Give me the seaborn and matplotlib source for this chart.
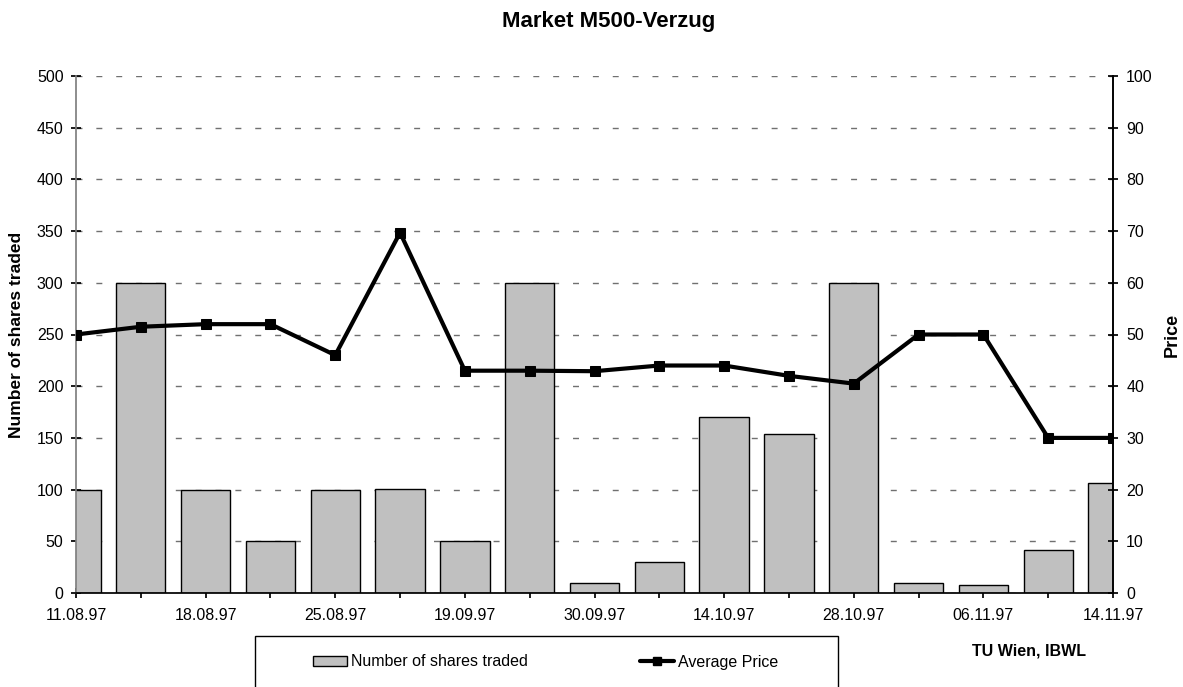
import matplotlib
matplotlib.use("Agg")
import matplotlib.pyplot as plt
import seaborn as sns
import numpy as np
import pandas as pd
from matplotlib.lines import Line2D
from matplotlib.patches import Patch, Rectangle

# Data
date_labels = ["11.08.97", "", "18.08.97", "", "25.08.97", "", "19.09.97", "",
               "30.09.97", "", "14.10.97", "", "28.10.97", "", "06.11.97", "", "14.11.97"]
shares_traded = [100, 300, 100, 50, 100, 101, 50, 300, 10, 30, 170, 154, 300, 10, 8, 42, 106]
average_price = [50, 51.5, 52, 52, 46, 69.7, 43, 43, 42.9, 44, 44, 42, 40.5, 50, 50, 30, 30]

df = pd.DataFrame({"pos": np.arange(len(shares_traded)),
                   "shares": shares_traded,
                   "price": average_price})

sns.set_theme(style="white")
plt.rcParams['font.family'] = ['Liberation Sans', 'DejaVu Sans']
plt.rcParams['text.color'] = 'black'
plt.rcParams['axes.labelcolor'] = 'black'
plt.rcParams['xtick.color'] = 'black'
plt.rcParams['ytick.color'] = 'black'

W, H = 1183, 687
fig = plt.figure(figsize=(W/100, H/100), dpi=100)
ax = fig.add_axes([76/W, 1-593/H, (1113-76)/W, (593-76)/H])

sns.barplot(data=df, x="pos", y="shares", native_scale=True, width=0.76,
            color="#c0c0c0", saturation=1, edgecolor="black", linewidth=1,
            ax=ax, zorder=2)
ax.set_xlim(0, len(shares_traded) - 1)
ax.set_ylim(0, 500)
ax.set_yticks(np.arange(0, 501, 50))
ax.set_xticks(np.arange(len(shares_traded)))
ax.set_xticklabels(date_labels)
ax.yaxis.grid(True, linestyle=(0, (4.3, 10)), color="#707070", linewidth=1)
ax.set_axisbelow(True)
ax.set_xlabel("")
ax.set_ylabel("Number of shares traded", fontsize=12.5, fontweight="bold")
ax.yaxis.set_label_coords((24-76)/1037, 0.5)

ax2 = ax.twinx()
sns.lineplot(data=df, x="pos", y="price", ax=ax2, color="black", linewidth=3.0,
             marker="s", markersize=6.5, markeredgecolor="black", zorder=3)
ax2.set_ylim(0, 100)
ax2.set_yticks(np.arange(0, 101, 10))
ax2.set_ylabel("Price", fontsize=13, fontweight="bold")
ax2.yaxis.set_label_coords((1164-76)/1037, 0.5)
ax2.set_xlabel("")
ax2.set_xlim(0, len(shares_traded) - 1)

for a in (ax, ax2):
    a.spines["top"].set_visible(False)
    a.tick_params(labelsize=11.5, labelcolor="black", length=7, direction="inout")
ax.spines["left"].set_color("#808080")
ax.spines["bottom"].set_color("black")
ax2.spines["right"].set_color("black")
ax2.spines["left"].set_visible(False)
ax2.spines["bottom"].set_visible(False)
ax.tick_params(axis="y", left=True, color="black", pad=5.5)
ax.tick_params(axis="x", bottom=True, color="black", pad=7)
ax2.tick_params(axis="y", right=True, color="black", pad=6)

fig.text(609/W, 1-22/H, "Market M500-Verzug", fontsize=16, fontweight="bold",
         ha="center", va="center", color="black")

# legend frame
fig.patches.append(Rectangle((255/W, -0.05), (838-255)/W, 0.05 + (687-636)/H,
                             transform=fig.transFigure, facecolor="white",
                             edgecolor="black", linewidth=1, zorder=5))
handles = [Patch(facecolor="#c0c0c0", edgecolor="black", linewidth=1),
           Line2D([0], [0], color="black", linewidth=3.0, marker="s", markersize=6)]
leg = fig.legend(handles, ["Number of shares traded", "Average Price"],
                 loc="center left", bbox_to_anchor=(313/W, 1-662/H),
                 ncol=2, frameon=False, fontsize=11.5, borderpad=0, borderaxespad=0,
                 handlelength=2.1, handleheight=0.6, handletextpad=0.3,
                 columnspacing=7.0)
leg.set_zorder(6)

fig.text(972/W, 1-651/H, "TU Wien, IBWL", fontsize=11.5, fontweight="bold",
         ha="left", va="center", color="black")

fig.savefig("out.png", dpi=100)
